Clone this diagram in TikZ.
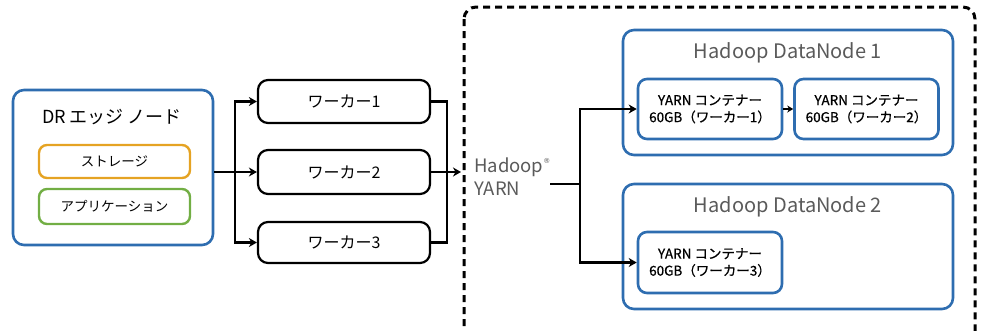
\documentclass[tikz,border=0pt]{standalone}
\usepackage{fontspec}
\setmainfont{Noto Sans CJK JP}
\newfontfamily\medfont[FakeBold=0.7]{Noto Sans CJK JP}
\newfontfamily\symfont{DejaVu Sans}
\usetikzlibrary{arrows.meta}
\definecolor{boxblue}{HTML}{2E6DB0}
\definecolor{storeorange}{HTML}{E5A323}
\definecolor{appgreen}{HTML}{72AE44}
\definecolor{hgray}{HTML}{5A5A5A}
\tikzset{
  bluebox/.style={draw=boxblue, line width=2.6pt, rounded corners=11pt, inner sep=0pt},
  workerbox/.style={draw=black, line width=2.2pt, rounded corners=10pt, minimum width=172pt, inner sep=0pt, font=\fontsize{16}{18}\selectfont},
  innerbox/.style={draw=#1, line width=2.4pt, rounded corners=8pt, minimum width=151pt, inner sep=0pt, font=\fontsize{13.5}{15}\selectfont},
  contbox/.style={draw=boxblue, line width=2.6pt, rounded corners=9pt, minimum width=144pt, inner sep=0pt, align=center, font=\medfont\fontsize{13.5}{17}\selectfont},
  titletxt/.style={text=hgray, font=\fontsize{20}{24}\selectfont, inner sep=0pt},
  conn/.style={draw=black, line width=2.3pt},
  arr/.style={conn, -{Stealth[length=8pt,width=9pt,inset=2.5pt]}}
}
\begin{document}
\begin{tikzpicture}[x=1pt,y=-1pt]
\useasboundingbox (0,0) rectangle (988,330);
% DR edge node
\node[bluebox, minimum width=200pt, minimum height=155pt] (dr) at (113,167.5) {};
\node[inner sep=0pt, font=\fontsize{18}{21}\selectfont] (drt) at (112,117) {DR エッジ ノード};
\node[innerbox=storeorange, minimum height=33pt] (st) at (114.5,161.5) {ストレージ};
\node[innerbox=appgreen, minimum height=35pt] (ap) at (114.5,206.5) {アプリケーション};
% workers
\node[workerbox, minimum height=43pt] (w1) at (344,101.5) {ワーカー1};
\node[workerbox, minimum height=44pt] (w2) at (344,172) {ワーカー2};
\node[workerbox, minimum height=41pt] (w3) at (344,242.5) {ワーカー3};
\coordinate (j1) at (235,172);
\coordinate (j2) at (447,172);
\coordinate (yin) at (461,172);
\draw[conn] (dr.east |- j1) -- (j1);
\draw[arr] (j1) |- (w1.west);
\draw[arr] (j1) -- (w2.west);
\draw[arr] (j1) |- (w3.west);
\draw[conn] (w1.east) -| (j2);
\draw[conn] (w3.east) -| (j2);
\draw[arr] (w2.east) -- (yin);
% dashed YARN region
\begin{scope}
\clip (0,0) rectangle (988,330);
\draw[line width=3pt, dash pattern=on 7pt off 5pt, rounded corners=12pt] (464,7) rectangle (975,345);
\end{scope}
\node[anchor=west, align=left, text=hgray, inner sep=0pt, font=\fontsize{18.5}{23}\selectfont] (yarn) at (474,177) {Hadoop\raisebox{0.9ex}{\symfont\fontsize{7}{7}\selectfont ®}\\YARN};
\coordinate (ys) at (550,184);
\coordinate (j3) at (580,184);
% DataNodes
\node[bluebox, minimum width=330pt, minimum height=125pt] (dn1) at (788,92.5) {};
\node[titletxt] (dn1t) at (788,53) {Hadoop DataNode 1};
\node[contbox, minimum height=60pt] (c1) at (710,109) {YARN コンテナー\\60GB（ワーカー1）};
\node[contbox, minimum height=60pt] (c2) at (866.5,109) {YARN コンテナー\\60GB（ワーカー2）};
\node[bluebox, minimum width=330pt, minimum height=125pt] (dn2) at (788,246.5) {};
\node[titletxt] (dn2t) at (788,207) {Hadoop DataNode 2};
\node[contbox, minimum height=61pt] (c3) at (710,262.5) {YARN コンテナー\\60GB（ワーカー3）};
\draw[conn] (ys) -- (j3);
\draw[arr] (j3) |- (c1.west);
\draw[arr] (j3) |- (c3.west);
\draw[conn, line width=2pt, -{Stealth[length=6pt,width=7pt,inset=2pt]}] (c1.east) -- (c2.west);
\end{tikzpicture}
\end{document}
